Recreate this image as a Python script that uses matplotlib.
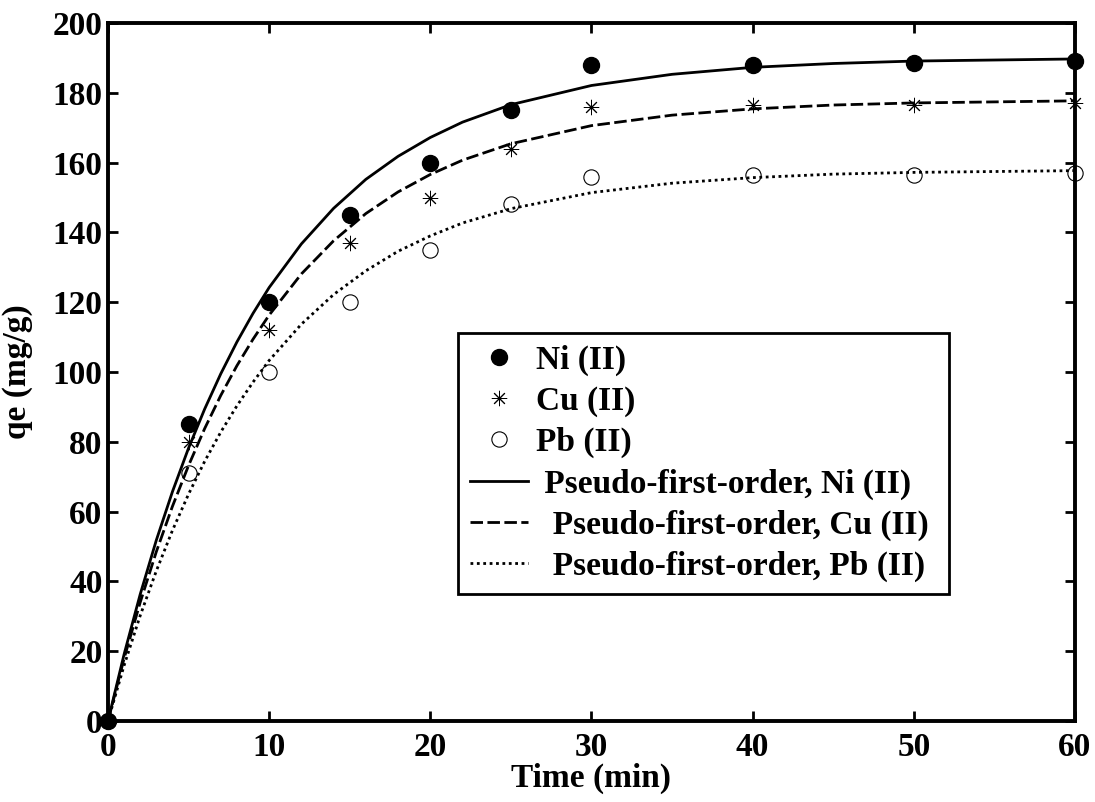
import matplotlib
matplotlib.use("Agg")
import matplotlib.pyplot as plt

plt.rcParams['font.family'] = ['Liberation Serif', 'DejaVu Serif']
plt.rcParams['font.weight'] = 'bold'

# Experimental data
time = [0, 5, 10, 15, 20, 25, 30, 40, 50, 60]
ni = [0, 85, 120, 145, 160, 175, 188, 188, 188.5, 189]
cu = [0, 80, 112, 137, 150, 164, 176, 176.5, 176.5, 177]
pb = [0, 71, 100, 120, 135, 148, 156, 156.5, 156.5, 157]

# Pseudo-first-order fitted curves
fit_time = [0, 1, 2, 3, 4, 5, 6, 7, 8, 9, 10, 12, 14, 16, 18, 20, 22, 25, 30, 35, 40, 45, 50, 60]
fit_ni = [0, 19.1, 36.3, 51.8, 65.7, 78.2, 89.4, 99.5, 108.6, 116.8, 124.2, 136.7, 146.9,
          155.2, 161.8, 167.2, 171.6, 176.6, 182.1, 185.3, 187.3, 188.4, 189.1, 189.7]
fit_cu = [0, 17.9, 34.0, 48.5, 61.5, 73.2, 83.8, 93.3, 101.8, 109.4, 116.3, 128.1, 137.6,
          145.4, 151.6, 156.6, 160.7, 165.4, 170.6, 173.6, 175.4, 176.5, 177.1, 177.7]
fit_pb = [0, 15.9, 30.2, 43.0, 54.6, 65.0, 74.4, 82.8, 90.3, 97.1, 103.3, 113.7, 122.2,
          129.0, 134.6, 139.0, 142.7, 146.8, 151.4, 154.1, 155.7, 156.7, 157.2, 157.7]

xticks = [0, 10, 20, 30, 40, 50, 60]
yticks = [0, 20, 40, 60, 80, 100, 120, 140, 160, 180, 200]

fig = plt.figure(figsize=(10.95, 8.02), dpi=100)
ax = fig.add_axes([0.0986, 0.101, 0.8831, 0.8703])

fs = 24
h1, = ax.plot(time, ni, linestyle='none', marker='o', markersize=11.5,
              markerfacecolor='black', markeredgecolor='black', label='Ni (II)', clip_on=False, zorder=5)
h2, = ax.plot(time, cu, linestyle='none', marker=(8, 2, 0), markersize=11,
              markeredgecolor='black', markeredgewidth=0.7, label='Cu (II)', clip_on=False, zorder=5)
h3, = ax.plot(time, pb, linestyle='none', marker='o', markersize=11,
              markeredgecolor='black', markeredgewidth=0.8,
              label='Pb (II)', clip_on=False, zorder=5, fillstyle='none')
h4, = ax.plot(fit_time, fit_ni, color='black', linewidth=2.0, linestyle='-',
              label=' Pseudo-first-order, Ni (II)')
h5, = ax.plot(fit_time, fit_cu, color='black', linewidth=2.0, linestyle=(0, (4.5, 1.6)),
              label='  Pseudo-first-order, Cu (II) ')
h6, = ax.plot(fit_time, fit_pb, color='black', linewidth=2.0, linestyle=(0, (1, 1.3)),
              label='  Pseudo-first-order, Pb (II) ')

ax.set_xlim(0, 60)
ax.set_ylim(0, 200)
ax.set_xticks(xticks)
ax.set_yticks(yticks)
ax.set_xticklabels([str(v) for v in xticks], fontsize=fs, fontweight='bold')
ax.set_yticklabels([str(v) for v in yticks], fontsize=fs, fontweight='bold')
ax.tick_params(direction='in', length=7, width=2, top=True, right=True)
ax.tick_params(axis='x', pad=8)
ax.tick_params(axis='y', pad=4)
for s in ax.spines.values():
    s.set_linewidth(2.8)

ax.set_xlabel('Time (min)', fontsize=fs, fontweight='bold', labelpad=0)
ax.set_ylabel('qe (mg/g)', fontsize=fs, fontweight='bold', labelpad=14)

leg = ax.legend(handles=[h1, h2, h3, h4, h5, h6], loc='upper left',
                bbox_to_anchor=(0.362, 0.556), frameon=True, fancybox=False,
                edgecolor='black', framealpha=1, handlelength=1.75, handletextpad=0.25,
                labelspacing=0.3, borderpad=0.35, borderaxespad=0,
                prop={'weight': 'bold', 'size': fs})
leg.get_frame().set_linewidth(2.0)

fig.savefig('out.png', dpi=100)
